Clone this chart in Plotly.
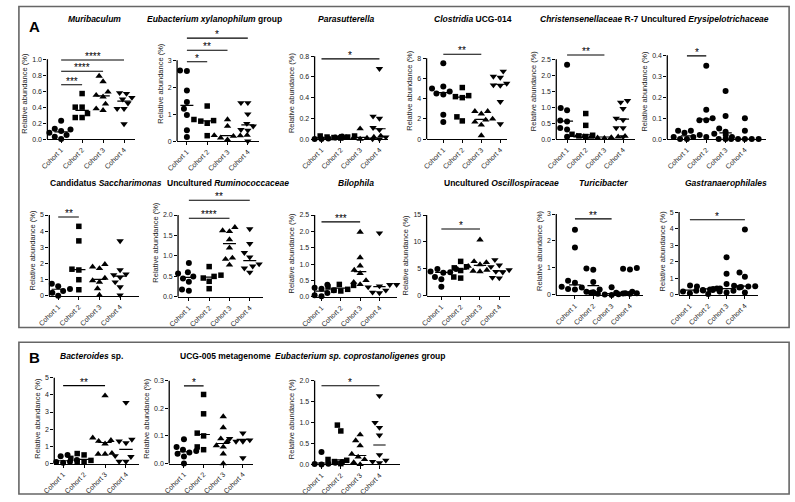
import numpy as np
import plotly.graph_objects as go

W, H = 795, 502
cohorts = ["Cohort 1", "Cohort 2", "Cohort 3", "Cohort 4"]
ytitle = "Relative abundance (%)"

# relative abundance (%) per animal: cohort 1..4
muribaculum = [[0.23, 0.13, 0.12, 0.10, 0.08, 0.05, 0.03, 0.0],
               [0.57, 0.40, 0.40, 0.32, 0.27, 0.27],
               [0.79, 0.72, 0.59, 0.55, 0.53, 0.44, 0.38, 0.36],
               [0.58, 0.57, 0.52, 0.50, 0.45, 0.38, 0.38, 0.19]]
muribaculum_sig = [(0, 1, 0.68, "***"), (0, 2, 0.85, "****"), (0, 3, 0.99, "****")]

xylanophilum = [[2.60, 2.62, 1.88, 1.45, 1.20, 0.97, 0.40, 0.15],
                [1.30, 0.80, 0.76, 0.74, 0.66, 0.20],
                [0.80, 0.55, 0.22, 0.21, 0.20, 0.18, 0.12, 0.05],
                [1.42, 1.42, 1.00, 0.65, 0.55, 0.42, 0.40, 0.0]]
xylanophilum_sig = [(0, 1, 2.94, "*"), (0, 2, 3.37, "**"), (0, 3, 3.82, "*")]

parasutterella = [[0.03, 0.025, 0.02, 0.015, 0.01, 0.005, 0.0, 0.0],
                  [0.03, 0.03, 0.02, 0.02, 0.015, 0.01],
                  [0.10, 0.03, 0.02, 0.02, 0.015, 0.01, 0.01, 0.0],
                  [0.68, 0.22, 0.20, 0.11, 0.09, 0.02, 0.0, 0.0]]
parasutterella_sig = [(0, 3, 0.775, "*")]

clostridia = [[7.5, 5.2, 5.0, 4.7, 4.5, 4.4, 2.4, 1.7],
              [5.1, 4.3, 4.2, 4.1, 2.2, 1.8],
              [2.75, 2.75, 2.5, 2.0, 1.9, 1.7, 1.4, 0.35],
              [6.7, 6.2, 6.1, 5.5, 5.35, 5.3, 3.7, 1.5]]
clostridia_sig = [(0, 2, 8.4, "**")]

christensenellaceae = [[2.33, 0.97, 0.90, 0.58, 0.55, 0.35, 0.30, 0.07],
                       [0.80, 0.43, 0.15, 0.12, 0.10, 0.08],
                       [0.10, 0.09, 0.08, 0.07, 0.06, 0.05, 0.04, 0.03],
                       [1.20, 1.15, 0.95, 0.65, 0.60, 0.35, 0.35, 0.07]]
christensenellaceae_sig = [(0, 2, 2.63, "**")]

erysipelotrichaceae = [[0.04, 0.04, 0.03, 0.02, 0.01, 0.01, 0.0, 0.0],
                       [0.35, 0.14, 0.10, 0.09, 0.09, 0.01],
                       [0.23, 0.11, 0.05, 0.035, 0.025, 0.01, 0.0, 0.0],
                       [0.10, 0.04, 0.02, 0.0, 0.0, 0.0, 0.0, 0.0]]
erysipelotrichaceae_sig = [(0, 1, 0.397, "*")]

saccharimonas = [[0.75, 0.60, 0.45, 0.42, 0.40, 0.30, 0.20, 0.0],
                 [4.3, 3.4, 1.65, 1.6, 1.0, 0.38],
                 [1.95, 1.8, 1.7, 1.1, 0.95, 0.85, 0.45, 0.05],
                 [3.4, 1.6, 1.35, 1.3, 1.15, 0.85, 0.55, 0.05]]
saccharimonas_sig = [(0, 1, 4.88, "**")]

ruminococcaceae = [[0.83, 0.60, 0.57, 0.50, 0.45, 0.37, 0.18, 0.15],
                   [0.74, 0.53, 0.50, 0.46, 0.38, 0.20],
                   [1.70, 1.62, 1.60, 1.40, 1.20, 0.95, 0.92, 0.78],
                   [1.66, 1.30, 1.08, 0.97, 0.80, 0.75, 0.70, 0.60]]
ruminococcaceae_sig = [(0, 2, 1.92, "****"), (0, 3, 2.36, "**")]

bilophila = [[0.37, 0.28, 0.25, 0.20, 0.15, 0.12, 0.05, 0.02],
             [0.38, 0.35, 0.30, 0.23, 0.20, 0.18],
             [1.98, 1.20, 0.95, 0.82, 0.72, 0.50, 0.45, 0.38],
             [1.95, 0.37, 0.37, 0.33, 0.30, 0.20, 0.14, 0.12]]
bilophila_sig = [(0, 2, 2.29, "***")]

oscillospiraceae = [[5.0, 5.0, 4.5, 4.4, 4.3, 3.5, 3.1, 1.7],
                    [6.4, 5.4, 5.2, 4.7, 3.5, 3.3],
                    [10.4, 6.4, 6.2, 5.8, 5.5, 4.8, 4.6, 4.5],
                    [6.7, 5.7, 5.4, 4.8, 4.5, 4.4, 3.4, 3.3]]
oscillospiraceae_sig = [(0, 2, 12.4, "*")]

turicibacter = [[2.42, 1.76, 0.52, 0.45, 0.30, 0.27, 0.22, 0.20],
                [0.98, 0.93, 0.48, 0.20, 0.12, 0.10],
                [0.28, 0.12, 0.08, 0.06, 0.04, 0.02, 0.01, 0.0],
                [1.00, 0.97, 0.94, 0.10, 0.08, 0.06, 0.05, 0.04]]
turicibacter_sig = [(0, 2, 2.82, "**")]

gastranaerophilales = [[0.38, 0.35, 0.33, 0.30, 0.27, 0.25, 0.20, 0.10],
                       [0.57, 0.50, 0.38, 0.35, 0.30, 0.05],
                       [2.27, 1.27, 0.65, 0.45, 0.30, 0.25, 0.20, 0.15],
                       [3.95, 1.35, 1.10, 0.55, 0.52, 0.50, 0.48, 0.15]]
gastranaerophilales_sig = [(0, 3, 4.54, "*")]

bacteroides = [[0.50, 0.42, 0.35, 0.20, 0.12, 0.10, 0.08, 0.05],
               [0.58, 0.50, 0.30, 0.18, 0.12, 0.10],
               [3.95, 1.50, 1.35, 1.30, 1.15, 0.60, 0.55, 0.55],
               [3.55, 1.40, 1.30, 1.20, 0.45, 0.40, 0.12, 0.12]]
bacteroides_sig = [(0, 2, 4.54, "**")]

ucg005 = [[0.088, 0.06, 0.05, 0.045, 0.04, 0.035, 0.025, 0.0],
          [0.25, 0.18, 0.11, 0.10, 0.06, 0.05],
          [0.17, 0.13, 0.09, 0.08, 0.065, 0.06, 0.035, 0.0],
          [0.11, 0.10, 0.10, 0.09, 0.085, 0.08, 0.08, 0.02]]
ucg005_sig = [(0, 1, 0.281, "*")]

coprostanoligenes = [[0.30, 0.06, 0.05, 0.04, 0.03, 0.02, 0.01, 0.0],
                     [0.94, 0.80, 0.12, 0.10, 0.07, 0.02],
                     [0.71, 0.57, 0.45, 0.25, 0.18, 0.12, 0.05, 0.0],
                     [1.64, 1.00, 0.88, 0.70, 0.23, 0.10, 0.07, 0.04]]
coprostanoligenes_sig = [(0, 3, 1.88, "*")]

SHAPES = ["circle", "square", "triangle-up", "triangle-down"]
DOTS = ["circle"] * 4

panels = [
    dict(title="<b><i>Muribaculum</i></b>", data=muribaculum, sig=muribaculum_sig, top=1.0, step=0.2, fmt="{:.1f}", sym=SHAPES),
    dict(title="<b><i>Eubacterium xylanophilum</i> group</b>", data=xylanophilum, sig=xylanophilum_sig, top=3, step=1, fmt="{:.0f}", sym=SHAPES),
    dict(title="<b><i>Parasutterella</i></b>", data=parasutterella, sig=parasutterella_sig, top=0.8, step=0.2, fmt="{:.1f}", sym=SHAPES),
    dict(title="<b><i>Clostridia</i> UCG-014</b>", data=clostridia, sig=clostridia_sig, top=8, step=2, fmt="{:.0f}", sym=SHAPES),
    dict(title="<b><i>Christensenellaceae</i> R-7</b>", data=christensenellaceae, sig=christensenellaceae_sig, top=2.5, step=0.5, fmt="{:.1f}", sym=SHAPES),
    dict(title="<b>Uncultured <i>Erysipelotrichaceae</i></b>", data=erysipelotrichaceae, sig=erysipelotrichaceae_sig, top=0.4, step=0.1, fmt="{:.1f}", sym=DOTS),
    dict(title="<b>Candidatus <i>Saccharimonas</i></b>", data=saccharimonas, sig=saccharimonas_sig, top=5, step=1, fmt="{:.0f}", sym=SHAPES),
    dict(title="<b>Uncultured <i>Ruminococcaceae</i></b>", data=ruminococcaceae, sig=ruminococcaceae_sig, top=2.0, step=0.5, fmt="{:.1f}", sym=SHAPES),
    dict(title="<b><i>Bilophila</i></b>", data=bilophila, sig=bilophila_sig, top=2.5, step=0.5, fmt="{:.1f}", sym=SHAPES),
    dict(title="<b>Uncultured <i>Oscillospiraceae</i></b>", data=oscillospiraceae, sig=oscillospiraceae_sig, top=15, step=5, fmt="{:.0f}", sym=SHAPES),
    dict(title="<b><i>Turicibacter</i></b>", data=turicibacter, sig=turicibacter_sig, top=3, step=1, fmt="{:.0f}", sym=DOTS),
    dict(title="<b><i>Gastranaerophilales</i></b>", data=gastranaerophilales, sig=gastranaerophilales_sig, top=5, step=1, fmt="{:.0f}", sym=DOTS),
    dict(title="<b><i>Bacteroides</i> sp.</b>", data=bacteroides, sig=bacteroides_sig, top=5, step=1, fmt="{:.0f}", sym=SHAPES),
    dict(title="<b>UCG-005 metagenome</b>", data=ucg005, sig=ucg005_sig, top=0.3, step=0.1, fmt="{:.1f}", sym=SHAPES),
    dict(title="<b><i>Eubacterium sp. coprostanoligenes</i> group</b>", data=coprostanoligenes, sig=coprostanoligenes_sig, top=2.0, step=0.5, fmt="{:.1f}", sym=SHAPES),
]

# pixel frame of each panel: axis x start/end, cohort 1 and 4 centres,
# zero line, top tick, title centre x/y
frames = [
    (34, 123, 48, 112, 137, 56, 82, 15),
    (166, 249, 176, 238, 139, 57, 204, 15),
    (306, 381, 313, 372, 137, 53, 338, 15),
    (420, 502, 437, 495, 137, 55, 467, 15),
    (552, 632, 563, 620, 137, 56, 586, 15),
    (665, 765, 685, 744, 137, 52, 703, 15),
    (36, 127, 45, 108, 296, 214, 94, 182),
    (167, 253, 178, 240, 297, 214, 218, 182),
    (306, 390, 313, 372, 297, 214, 348, 182),
    (420, 505, 435, 494, 296, 214, 496, 182),
    (552, 640, 571, 627, 295, 213, 600, 182),
    (677, 757, 688, 744, 295, 211, 725, 182),
    (41, 127, 50, 114, 466, 379, 79, 357),
    (158, 243, 173, 233, 466, 382, 215, 357),
    (306, 393, 313, 372, 467, 382, 353, 357),
]

FONT = "Liberation Sans, Arial, sans-serif"
SIZES = {"circle": 6, "square": 5.5, "triangle-up": 6.5, "triangle-down": 6.5}


def px(x):
    return x / W


def py(y):
    return 1 - y / H


# simple beeswarm: spread points sideways when they would overlap
def swarm(vals, ppy, ppx, d=6.8):
    pts = []
    offs = [0.0] * len(vals)
    for i in sorted(range(len(vals)), key=lambda k: vals[k]):
        y = vals[i] * ppy
        placed = False
        for step in range(0, 80):
            for sgn in ((1,) if step == 0 else (-1, 1)):
                x = sgn * step * 0.5
                if all((x - qx) ** 2 + (y - qy) ** 2 >= d * d for qx, qy in pts):
                    pts.append((x, y))
                    offs[i] = x / ppx
                    placed = True
                    break
            if placed:
                break
    return offs


def label(x, y, text, size):
    return dict(x=px(x), y=py(y), xref="paper", yref="paper", text=text, showarrow=False,
                xanchor="center", yanchor="middle", font=dict(size=size, color="black", family=FONT))


fig = go.Figure()
shapes, annotations, axes = [], [], {}

for n, (p, f) in enumerate(zip(panels, frames), start=1):
    xs, xe, c1, c4, y0, yt, tx, ty = f
    sx = (c4 - c1) / 3
    ppu = (y0 - yt) / p["top"]
    bar_hi = max(b[2] for b in p["sig"])
    ytop_px = min(yt, y0 - bar_hi * ppu - 12)
    ax = "" if n == 1 else str(n)
    xa, ya = "x" + ax, "y" + ax

    for k, vals in enumerate(p["data"]):
        offs = swarm(vals, ppu, sx)
        sym = p["sym"][k]
        fig.add_trace(go.Scatter(
            x=[k + o for o in offs], y=vals, mode="markers",
            marker=dict(symbol=sym, size=SIZES[sym], color="black", line=dict(width=0)),
            cliponaxis=False, showlegend=False, hoverinfo="skip", xaxis=xa, yaxis=ya))

    mx, my = [], []
    for k, vals in enumerate(p["data"]):
        med = float(np.median(vals))
        mx += [k - 0.32, k + 0.32, None]
        my += [med, med, None]
    fig.add_trace(go.Scatter(x=mx, y=my, mode="lines", line=dict(color="black", width=1.2),
                             showlegend=False, hoverinfo="skip", xaxis=xa, yaxis=ya))

    bx, by = [], []
    for i, j, v, stars in p["sig"]:
        bx += [i, j, None]
        by += [v, v, None]
        annotations.append(dict(x=(i + j) / 2, y=v, xref=xa, yref=ya, text=stars, showarrow=False,
                                xanchor="center", yanchor="bottom", yshift=-4,
                                font=dict(size=10, color="black", family=FONT)))
    fig.add_trace(go.Scatter(x=bx, y=by, mode="lines", line=dict(color="black", width=1.1),
                             showlegend=False, hoverinfo="skip", xaxis=xa, yaxis=ya))

    tv = [round(v, 3) for v in np.arange(0, p["top"] + p["step"] / 2, p["step"])]
    axes["xaxis" + ax] = dict(
        domain=[px(xs), px(xe)], range=[(xs - c1) / sx, 3 + (xe - c4) / sx], anchor=ya,
        tickvals=[0, 1, 2, 3], ticktext=cohorts, tickangle=-45, tickfont=dict(size=7, color="#222222", family=FONT),
        showline=True, linecolor="black", linewidth=1.3, ticks="outside", ticklen=3, tickwidth=1,
        tickcolor="black", showgrid=False, zeroline=False, fixedrange=True)
    axes["yaxis" + ax] = dict(
        domain=[py(y0), py(ytop_px)], range=[0, (y0 - ytop_px) / ppu], anchor=xa,
        tickvals=tv, ticktext=[p["fmt"].format(v) for v in tv], tickfont=dict(size=7, color="#222222", family=FONT),
        showline=False, ticks="outside", ticklen=3, tickwidth=1, tickcolor="black",
        showgrid=False, zeroline=False, fixedrange=True,
        title=dict(text=ytitle, font=dict(size=7.5, color="#222222", family=FONT), standoff=3))

    # y axis line stops at the top tick, like the original
    shapes.append(dict(type="line", xref="paper", yref="paper", x0=px(xs), x1=px(xs),
                       y0=py(y0), y1=py(yt), line=dict(color="black", width=1.3)))
    annotations.append(label(tx, ty, p["title"], 8.5))

# panel frames A and B
shapes.append(dict(type="rect", xref="paper", yref="paper", x0=px(5), x1=px(789), y0=py(328), y1=py(2.5),
                   line=dict(color="#666666", width=1.6)))
shapes.append(dict(type="rect", xref="paper", yref="paper", x0=px(5), x1=px(789), y0=py(497), y1=py(343),
                   line=dict(color="#666666", width=1.6)))
annotations.append(label(21, 23, "<b>A</b>", 15))
annotations.append(label(21, 359, "<b>B</b>", 15))

fig.update_layout(width=W, height=H, margin=dict(l=0, r=0, t=0, b=0),
                  paper_bgcolor="white", plot_bgcolor="white",
                  shapes=shapes, annotations=annotations, **axes)

# pin the graph to the window corner so page margins do not shift it
fig.write_html("out.html", config={"displayModeBar": False}, post_script=(
    "document.body.style.margin='0';"
    "var g=document.getElementById('{plot_id}');"
    "g.style.position='fixed';g.style.left='0px';g.style.top='0px';"))
